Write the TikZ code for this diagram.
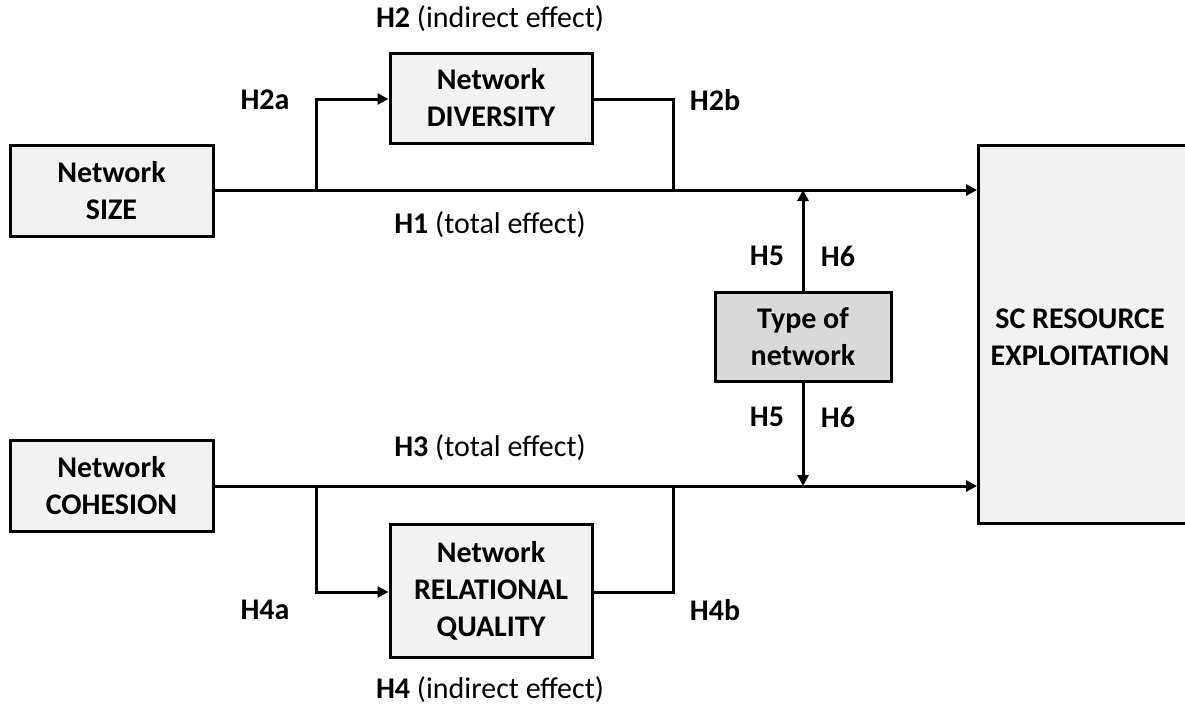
\documentclass[tikz,border=0pt]{standalone}
\usepackage{fontspec}
\setmainfont{Carlito}
\usetikzlibrary{arrows.meta}
\definecolor{boxfill}{HTML}{F2F2F2}
\definecolor{modfill}{HTML}{D9D9D9}
\begin{document}
\begin{tikzpicture}[x=1pt,y=-1pt,
  box/.style={draw=black, line width=3pt, fill=boxfill, align=center, font=\fontsize{30}{37}\selectfont\bfseries, inner sep=0pt},
  lbl/.style={font=\fontsize{30}{36}\selectfont, inner sep=0pt},
  conn/.style={line width=3pt},
  arr/.style={conn, -{Triangle[length=11pt,width=11pt]}}]
\useasboundingbox (0,0) rectangle (1185,712);
\node[box, minimum width=203pt, minimum height=91pt] (size) at (111.5,190.5) {Network\\SIZE};
\node[box, minimum width=203pt, minimum height=91pt] (coh) at (111.5,485.5) {Network\\COHESION};
\node[box, minimum width=202pt, minimum height=90pt] (div) at (491,98) {Network\\DIVERSITY};
\node[box, minimum width=202pt, minimum height=133pt] (rq) at (491,590.5) {Network\\RELATIONAL\\QUALITY};
\node[box, fill=modfill, minimum width=176pt, minimum height=89pt] (type) at (803,337) {Type of\\network};
\node[box, anchor=west, minimum width=220pt, minimum height=378pt] (sc) at (977,334) {};
\node[font=\fontsize{30}{37}\selectfont\bfseries, align=center] (sct) at (1080,337) {SC RESOURCE\\EXPLOITATION};
% coordinates
\coordinate (t1) at (316,190);
\coordinate (t2) at (316,99);
\coordinate (t3) at (673,99);
\coordinate (t4) at (673,190);
\coordinate (tm) at (803,190);
\coordinate (tend) at (977,190);
\coordinate (b1) at (316,486);
\coordinate (b2) at (316,592);
\coordinate (b3) at (673,592);
\coordinate (b4) at (673,486);
\coordinate (bm) at (803,486);
\coordinate (bend) at (977,486);
\draw[arr] (size.east |- tend) -- (tend);
\draw[arr] (coh.east |- bend) -- (bend);
\draw[arr] (t1) -- (t2) -- (div.west |- t2);
\draw[conn] (div.east |- t3) -- (t3) -- (t4);
\draw[arr] (b1) -- (b2) -- (rq.west |- b2);
\draw[conn] (rq.east |- b3) -- (b3) -- (b4);
\draw[arr] (type.north) -- (tm);
\draw[arr] (type.south) -- (bm);
% labels
\node[lbl] (l2) at (490,19) {\textbf{H2} (indirect effect)};
\node[lbl] (l2a) at (265,100) {\textbf{H2a}};
\node[lbl] (l2b) at (715,100) {\textbf{H2b}};
\node[lbl] (l1) at (490,225) {\textbf{H1} (total effect)};
\node[lbl] (l5a) at (767,256) {\textbf{H5}};
\node[lbl] (l6a) at (838,256) {\textbf{H6}};
\node[lbl] (l5b) at (767,417) {\textbf{H5}};
\node[lbl] (l6b) at (838,417) {\textbf{H6}};
\node[lbl] (l3) at (490,448) {\textbf{H3} (total effect)};
\node[lbl] (l4a) at (265,610) {\textbf{H4a}};
\node[lbl] (l4b) at (715,610) {\textbf{H4b}};
\node[lbl] (l4) at (490,690) {\textbf{H4} (indirect effect)};
\end{tikzpicture}
\end{document}
